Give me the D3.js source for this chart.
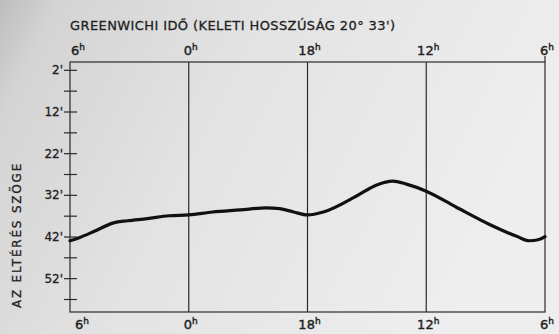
<!DOCTYPE html>
<html>
<head>
<meta charset="utf-8">
<script src="https://cdn.jsdelivr.net/npm/d3@7"></script>
<style>
  body { margin: 0; }
  svg { display: block; }
</style>
</head>
<body>
<div id="chart"></div>
<script>
// hours elapsed from the left edge (6h ... 0h ... 18h ... 12h ... 6h)
var hours = [0, 0.5, 1.2, 2.2, 2.9, 3.9, 5.0, 6.0, 7.2, 8.6, 9.9, 10.6, 11.3, 12.0, 12.8, 14.5, 15.5, 16.3, 17.0, 18.0, 19.5, 21.2, 22.6, 23.2, 23.7, 24];
var angle = [42.9, 42.1, 40.7, 38.6, 38.1, 37.6, 36.9, 36.7, 36.0, 35.5, 35.0, 35.2, 36.0, 36.7, 36.0, 32.1, 29.5, 28.6, 29.3, 31.0, 34.8, 39.0, 41.9, 42.9, 42.6, 41.9];

var hourTicks = [0, 6, 12, 18, 24];
var hourLabels = ["6", "0", "18", "12", "6"];
var angleTicks = [2, 12, 22, 32, 42, 52];
var minorTicks = [7, 17, 27, 37, 47, 57];

var title = "GREENWICHI IDŐ (KELETI HOSSZÚSÁG 20° 33')";
var yTitle = "AZ ELTÉRÉS SZÖGE";

var W = 559, H = 334;
var margin = {top: 62, right: 14, bottom: 22, left: 70};

var svg = d3.select("#chart")
  .append("svg")
    .attr("width", W)
    .attr("height", H);

// scanned paper look
var grad = svg.append("defs").append("linearGradient")
    .attr("id", "paper")
    .attr("x1", "0").attr("x2", "1").attr("y1", "0").attr("y2", "0.3");
grad.append("stop").attr("offset", "0").attr("stop-color", "#bdbdbd");
grad.append("stop").attr("offset", "0.1").attr("stop-color", "#d4d4d4");
grad.append("stop").attr("offset", "0.45").attr("stop-color", "#e3e3e3");
grad.append("stop").attr("offset", "1").attr("stop-color", "#eeeeee");
svg.append("rect").attr("width", W).attr("height", H).attr("fill", "url(#paper)");

var x = d3.scaleLinear()
  .domain([0, 24])
  .range([margin.left, W - margin.right]);

var y = d3.scaleLinear()
  .domain([0, 60])
  .range([margin.top, H - margin.bottom]);

// frame
svg.append("rect")
    .attr("x", x(0)).attr("y", y(0))
    .attr("width", x(24) - x(0)).attr("height", y(60) - y(0))
    .attr("fill", "none")
    .attr("stroke", "#2a2a2a")
    .attr("stroke-width", 1.2);

// vertical hour lines
svg.append("g")
  .selectAll("line")
  .data(hourTicks.slice(1, 4))
  .enter()
  .append("line")
    .attr("x1", function (d) { return x(d); })
    .attr("x2", function (d) { return x(d); })
    .attr("y1", y(0))
    .attr("y2", y(60))
    .attr("stroke", "#2a2a2a")
    .attr("stroke-width", 1.2);

// little mark above the right corner
svg.append("line")
    .attr("x1", x(24)).attr("x2", x(24))
    .attr("y1", y(0) - 6).attr("y2", y(0))
    .attr("stroke", "#2a2a2a").attr("stroke-width", 1.2);

// y ticks
svg.append("g")
  .selectAll("line")
  .data(angleTicks.concat(minorTicks))
  .enter()
  .append("line")
    .attr("x1", x(0) - 6)
    .attr("x2", x(0) + 7)
    .attr("y1", function (d) { return y(d); })
    .attr("y2", function (d) { return y(d); })
    .attr("stroke", "#2a2a2a")
    .attr("stroke-width", 1.2);

svg.append("g")
  .selectAll("text")
  .data(angleTicks)
  .enter()
  .append("text")
    .attr("x", x(0) - 7)
    .attr("y", function (d) { return y(d) + 4; })
    .attr("text-anchor", "end")
    .style("font-family", "DejaVu Sans")
    .style("font-size", "12px")
    .style("fill", "#222")
    .style("stroke", "#222")
    .style("stroke-width", 0.3)
    .text(function (d) { return d + "'"; });

// hour labels, top and bottom
function hourLabel(g, yPos, dxFirst) {
  var t = g.selectAll("text")
    .data(hourTicks)
    .enter()
    .append("text")
      .attr("x", function (d, i) { return x(d) + (i == 0 ? dxFirst : 2); })
      .attr("y", yPos)
      .attr("text-anchor", "middle")
      .style("font-family", "DejaVu Sans")
      .style("font-size", "13px")
      .style("fill", "#222")
      .style("stroke", "#222")
      .style("stroke-width", 0.4);
  t.append("tspan").text(function (d, i) { return hourLabels[i]; });
  t.append("tspan")
    .attr("dy", -5)
    .style("font-size", "9px")
    .text("h");
}
hourLabel(svg.append("g"), 55, 8);
hourLabel(svg.append("g"), 329, 12);

// curve
svg.append("path")
    .datum(hours.map(function (h, i) { return [h, angle[i]]; }))
    .attr("fill", "none")
    .attr("stroke", "#111")
    .attr("stroke-width", 3.2)
    .attr("stroke-linejoin", "round")
    .attr("stroke-linecap", "round")
    .attr("d", d3.line()
      .x(function (d) { return x(d[0]); })
      .y(function (d) { return y(d[1]); })
      .curve(d3.curveMonotoneX));

// titles
svg.append("text")
    .attr("x", x(0))
    .attr("y", 30)
    .attr("textLength", 325)
    .style("font-family", "DejaVu Sans")
    .style("font-size", "13px")
    .style("fill", "#222")
    .style("stroke", "#222")
    .style("stroke-width", 0.3)
    .text(title);

svg.append("text")
    .attr("transform", "translate(21,235) rotate(-90)")
    .attr("text-anchor", "middle")
    .style("font-family", "DejaVu Sans")
    .style("font-size", "12px")
    .style("letter-spacing", "1.8px")
    .style("fill", "#222")
    .style("stroke", "#222")
    .style("stroke-width", 0.3)
    .text(yTitle);
</script>
</body>
</html>
